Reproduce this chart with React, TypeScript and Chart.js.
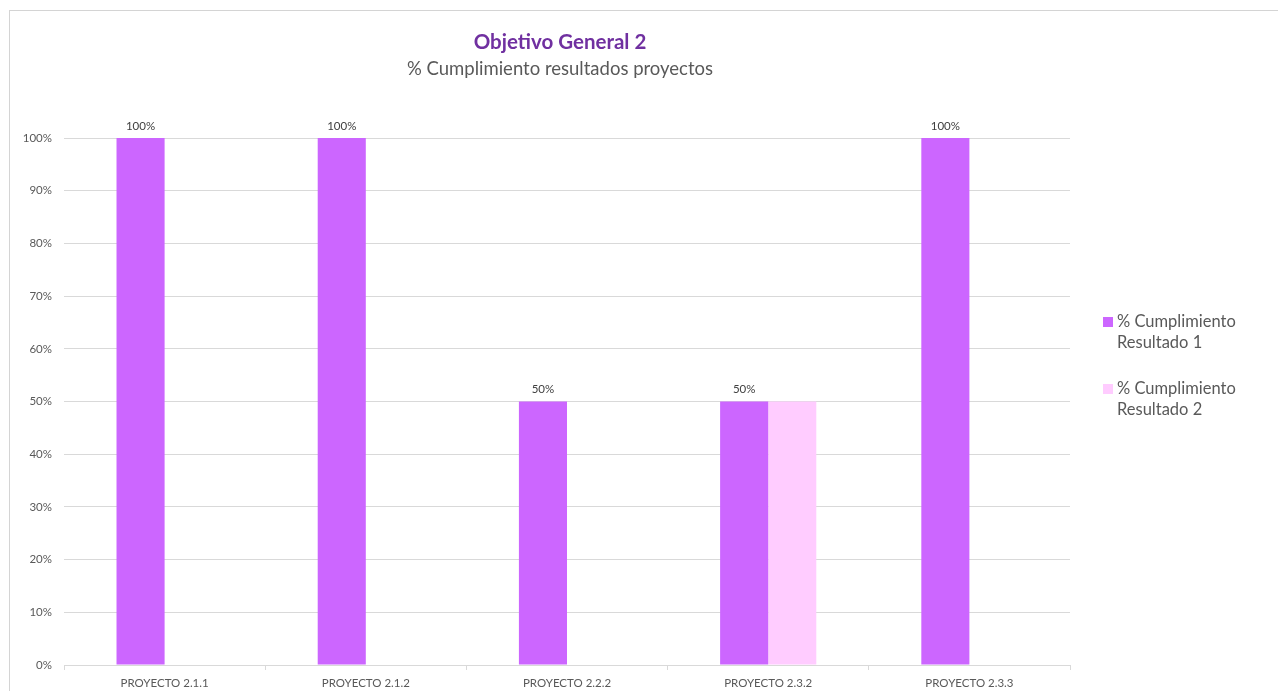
import React, { useEffect, useRef } from "react";
import { Chart, registerables } from "chart.js";

Chart.register(...registerables);

const categories = ["PROYECTO 2.1.1", "PROYECTO 2.1.2", "PROYECTO 2.2.2", "PROYECTO 2.3.2", "PROYECTO 2.3.3"];
const resultado1 = [100, 100, 50, 50, 100];
const resultado2: (number | null)[] = [null, null, null, 50, null];
const seriesNames = [["% Cumplimiento", "Resultado 1"], ["% Cumplimiento", "Resultado 2"]];
const seriesColors = ["#cc66ff", "#ffccff"];
const titleText = "Objetivo General 2";
const subtitleText = "% Cumplimiento resultados proyectos";

const FONT = "Lato, 'Open Sans', sans-serif";

export default function App() {
  const ref = useRef<HTMLCanvasElement | null>(null);

  useEffect(() => {
    if (!ref.current) return;
    const overlay = {
      id: "overlay",
      afterDraw(chart: any) {
        const ctx = chart.ctx;
        ctx.save();
        // titles
        ctx.textAlign = "center";
        ctx.textBaseline = "middle";
        ctx.fillStyle = "#7030a0";
        ctx.font = `bold 20.5px ${FONT}`;
        ctx.fillText(titleText, 560, 42);
        ctx.fillStyle = "#595959";
        ctx.font = `18.5px ${FONT}`;
        ctx.fillText(subtitleText, 560, 69);
        // data labels for series 1
        const meta = chart.getDatasetMeta(0);
        ctx.font = `11.5px ${FONT}`;
        ctx.fillStyle = "#404040";
        ctx.textBaseline = "bottom";
        meta.data.forEach((bar: any, i: number) => {
          const v = resultado1[i];
          if (v == null) return;
          ctx.fillText(`${v}%`, bar.x, bar.y - 6);
        });
        // legend
        ctx.textAlign = "left";
        ctx.textBaseline = "middle";
        ctx.font = `16.5px ${FONT}`;
        const startY = 322;
        const gap = 67;
        seriesNames.forEach((lines, k) => {
          const y0 = startY + k * gap;
          ctx.fillStyle = seriesColors[k];
          ctx.fillRect(1103, y0 - 5, 10, 10);
          ctx.fillStyle = "#595959";
          lines.forEach((ln, j) => ctx.fillText(ln, 1117, y0 + j * 21));
        });
        ctx.restore();
      },
    };

    const chart = new Chart(ref.current, {
      type: "bar",
      data: {
        labels: categories,
        datasets: [
          { label: "% Cumplimiento Resultado 1", data: resultado1, backgroundColor: seriesColors[0], categoryPercentage: 0.478, barPercentage: 1 },
          { label: "% Cumplimiento Resultado 2", data: resultado2, backgroundColor: seriesColors[1], categoryPercentage: 0.478, barPercentage: 1 },
        ],
      },
      options: {
        animation: false,
        responsive: false,
        maintainAspectRatio: false,
        layout: { padding: { top: 138, right: 208, bottom: 0, left: 0 } },
        plugins: {
          legend: { display: false },
          title: { display: false },
          tooltip: { enabled: false },
        },
        scales: {
          x: {
            grid: { display: true, drawOnChartArea: false, drawTicks: true, tickLength: 5, color: "#d9d9d9", offset: true },
            border: { display: true, color: "#d9d9d9" },
            ticks: { color: "#595959", font: { family: FONT, size: 11.5 }, padding: 6, maxRotation: 0, autoSkip: false },
            afterFit: (s: any) => { s.height = 26; },
          },
          y: {
            min: 0,
            max: 100,
            ticks: { stepSize: 10, color: "#595959", font: { family: FONT, size: 11.5 }, padding: 12, callback: (v: any) => `${v}%` },
            grid: { color: "#d9d9d9", drawTicks: false },
            border: { display: false },
            afterFit: (s: any) => { s.width = 64; },
          },
        },
      },
      plugins: [overlay],
    });
    return () => chart.destroy();
  }, []);

  return (
    <div style={{ position: "fixed", left: 0, top: 0, width: 1278, height: 691, background: "#fff", overflow: "hidden" }}>
      <div style={{ position: "absolute", left: 9, top: 10, width: 1400, height: 800, border: "1px solid #d4d4d4" }} />
      <canvas ref={ref} width={1278} height={691} style={{ position: "absolute", left: 0, top: 0, width: 1278, height: 691 }} />
    </div>
  );
}
